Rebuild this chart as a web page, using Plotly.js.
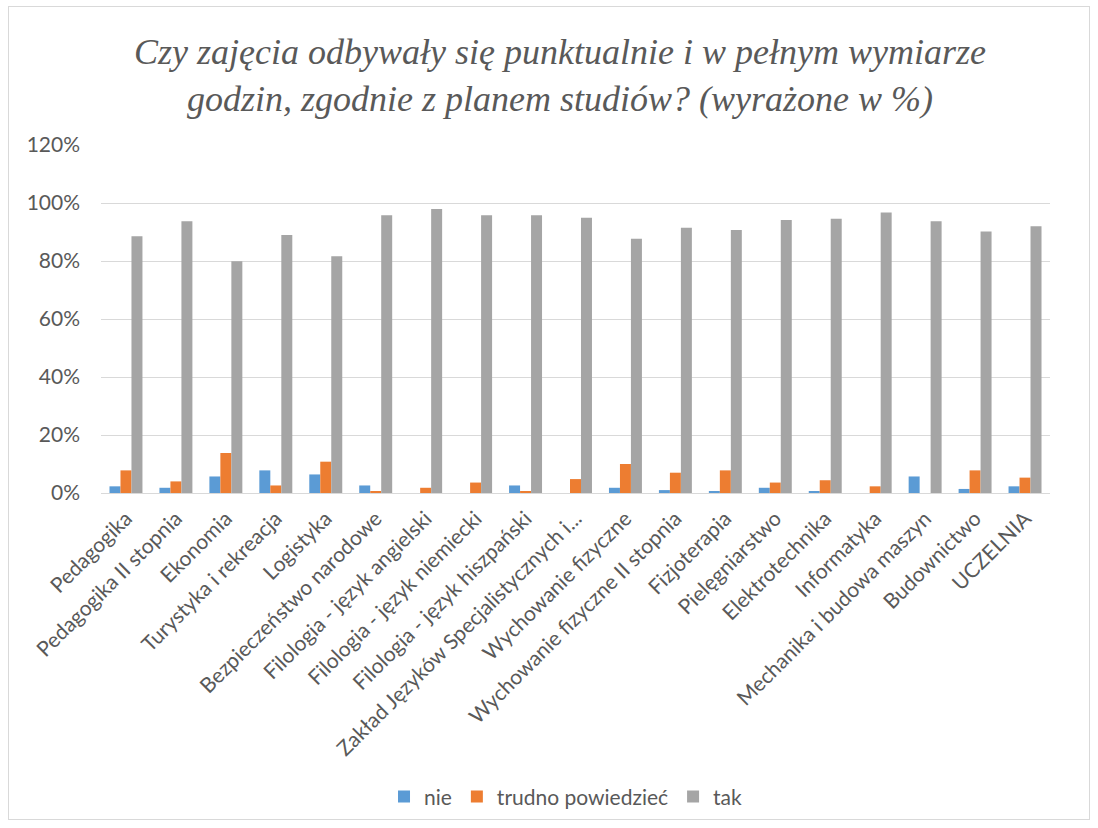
<!DOCTYPE html>
<html>
<head>
<meta charset="utf-8">
<script src="https://cdn.plot.ly/plotly-3.0.1.min.js"></script>
<style>
html,body{margin:0;padding:0;background:#fff;}
#frame{position:absolute;left:8px;top:6px;width:1082px;height:814px;border:1px solid #d9d9d9;box-sizing:border-box;}
#chart{position:absolute;left:0;top:0;width:1098px;height:828px;}
</style>
</head>
<body>
<div id="frame"></div>
<div id="chart"></div>
<script>
const categories = [
  "Pedagogika",
  "Pedagogika II stopnia",
  "Ekonomia",
  "Turystyka i rekreacja",
  "Logistyka",
  "Bezpieczeństwo narodowe",
  "Filologia - język angielski",
  "Filologia - język niemiecki",
  "Filologia - język hiszpański",
  "Zakład Języków Specjalistycznych i...",
  "Wychowanie fizyczne",
  "Wychowanie fizyczne II stopnia",
  "Fizjoterapia",
  "Pielęgniarstwo",
  "Elektrotechnika",
  "Informatyka",
  "Mechanika i budowa maszyn",
  "Budownictwo",
  "UCZELNIA"
];
const nie    = [2.3, 1.8, 5.7, 7.8, 6.4, 2.6, 0.0, 0.0, 2.6, 0.0, 1.8, 1.0, 0.6, 1.8, 0.6, 0.0, 5.7, 1.4, 2.3];
const trudno = [7.8, 4.0, 13.8, 2.6, 10.8, 0.7, 1.8, 3.6, 0.7, 4.8, 10.0, 7.0, 7.8, 3.6, 4.4, 2.3, 0.0, 7.8, 5.3];
const tak    = [88.5, 93.7, 79.9, 89.0, 81.6, 95.8, 97.9, 95.8, 95.8, 94.9, 87.7, 91.5, 90.7, 94.1, 94.6, 96.7, 93.7, 90.2, 92.0];
const seriesNames = ["nie", "trudno powiedzieć", "tak"];
const yTickVals = [0, 0.2, 0.4, 0.6, 0.8, 1.0, 1.2];
const yTickText = ["0%", "20%", "40%", "60%", "80%", "100%", "120%"];
const titleText = "Czy zajęcia odbywały się punktualnie i w pełnym wymiarze<br>godzin, zgodnie z planem studiów? (wyrażone w %)";

const colors = ["#5B9BD5", "#ED7D31", "#A5A5A5"];
const series = [nie, trudno, tak];
const traces = series.map((vals, i) => ({
  type: "bar",
  name: seriesNames[i],
  x: categories,
  y: vals.map(v => v / 100),
  marker: {color: colors[i], line: {width: 0}},
  hoverinfo: "x+y+name"
}));

const layout = {
  width: 1098,
  height: 828,
  paper_bgcolor: "rgba(0,0,0,0)",
  plot_bgcolor: "rgba(0,0,0,0)",
  margin: {l: 101, r: 48, t: 145, b: 334},
  barmode: "group",
  bargap: 0.34,
  bargroupgap: 0,
  font: {family: "Lato, 'Open Sans', sans-serif", color: "#595959", size: 20},
  title: {
    text: titleText,
    font: {family: "'Liberation Serif', 'DejaVu Serif', serif", size: 36, color: "#595959", style: "italic"},
    x: 0.51, xref: "container", xanchor: "center",
    y: 0.923, yref: "container", yanchor: "middle"
  },
  xaxis: {
    type: "category",
    tickangle: -45,
    tickfont: {size: 21, color: "#595959"},
    ticklabelstandoff: 4,
    showgrid: false,
    showline: true,
    linecolor: "#d9d9d9",
    linewidth: 1,
    ticks: "",
    automargin: false
  },
  yaxis: {
    range: [0, 1.2],
    tickvals: yTickVals,
    ticktext: yTickText,
    tickfont: {size: 21, color: "#595959"},
    ticklabelstandoff: 20,
    showgrid: true,
    gridcolor: "#d9d9d9",
    gridwidth: 1,
    zeroline: false,
    showline: false,
    ticks: "",
    ticklen: 0,
    automargin: false
  },
  showlegend: true,
  legend: {
    orientation: "h",
    x: 0.49, xanchor: "center",
    y: -0.868, yanchor: "middle",
    font: {size: 21, color: "#595959"},
    itemwidth: 30,
    traceorder: "normal"
  }
};

Plotly.newPlot("chart", traces, layout, {displayModeBar: false, responsive: false});
</script>
</body>
</html>
